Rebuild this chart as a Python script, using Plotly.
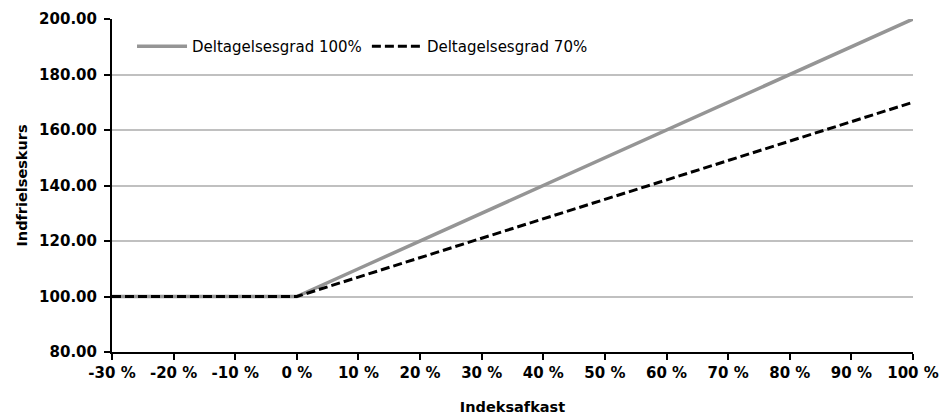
import plotly.graph_objects as go

indeksafkast = [-30, -20, -10, 0, 10, 20, 30, 40, 50, 60, 70, 80, 90, 100]
kurs_100 = [100, 100, 100, 100, 110, 120, 130, 140, 150, 160, 170, 180, 190, 200]
kurs_70 = [100, 100, 100, 100, 107, 114, 121, 128, 135, 142, 149, 156, 163, 170]
x_ticks = [-30, -20, -10, 0, 10, 20, 30, 40, 50, 60, 70, 80, 90, 100]
x_labels = [f"{v} %" for v in x_ticks]
y_ticks = [80, 100, 120, 140, 160, 180, 200]
y_labels = [f"{v:.2f}" for v in y_ticks]

fig = go.Figure()
fig.add_trace(go.Scatter(x=indeksafkast, y=kurs_100, mode="lines",
                         name="Deltagelsesgrad 100%",
                         line=dict(color="#959595", width=3.5)))
fig.add_trace(go.Scatter(x=indeksafkast, y=kurs_70, mode="lines",
                         name="Deltagelsesgrad 70%",
                         line=dict(color="#000000", width=3, dash="9px,4px")))

font_family = "DejaVu Sans, Verdana, sans-serif"
fig.update_layout(
    width=941, height=412,
    margin=dict(l=104, r=36, t=11, b=68),
    paper_bgcolor="white", plot_bgcolor="white",
    font=dict(family=font_family, size=14, color="black"),
    showlegend=True,
    legend=dict(orientation="h", x=0.025, y=0.967, xanchor="left", yanchor="top",
                bgcolor="rgba(0,0,0,0)", font=dict(size=15, family=font_family),
                itemwidth=50, tracegroupgap=0),
    xaxis=dict(range=[-30, 100], tickvals=x_ticks, ticktext=x_labels,
               automargin=False,
               showgrid=False, zeroline=False, showline=True, linecolor="black",
               linewidth=2, ticks="outside", ticklen=6, tickwidth=1.5, tickcolor="black",
               tickfont=dict(family=font_family, size=15, color="black", weight="bold"),
               title=dict(text="<b>Indeksafkast</b>", standoff=21,
                          font=dict(family=font_family, size=14.5))),
    yaxis=dict(range=[80, 200], tickvals=y_ticks, ticktext=y_labels,
               automargin=False, ticklabelstandoff=4,
               showgrid=True, gridcolor="#c0c0c0", gridwidth=1.5,
               zeroline=False, showline=True, linecolor="black",
               linewidth=2, ticks="outside", ticklen=6, tickwidth=1.5, tickcolor="black",
               tickfont=dict(family=font_family, size=15, color="black", weight="bold"),
               title=dict(text="<b>Indfrielseskurs</b>", standoff=8,
                          font=dict(family=font_family, size=14.5))),
)

fig.write_html("out.html")
